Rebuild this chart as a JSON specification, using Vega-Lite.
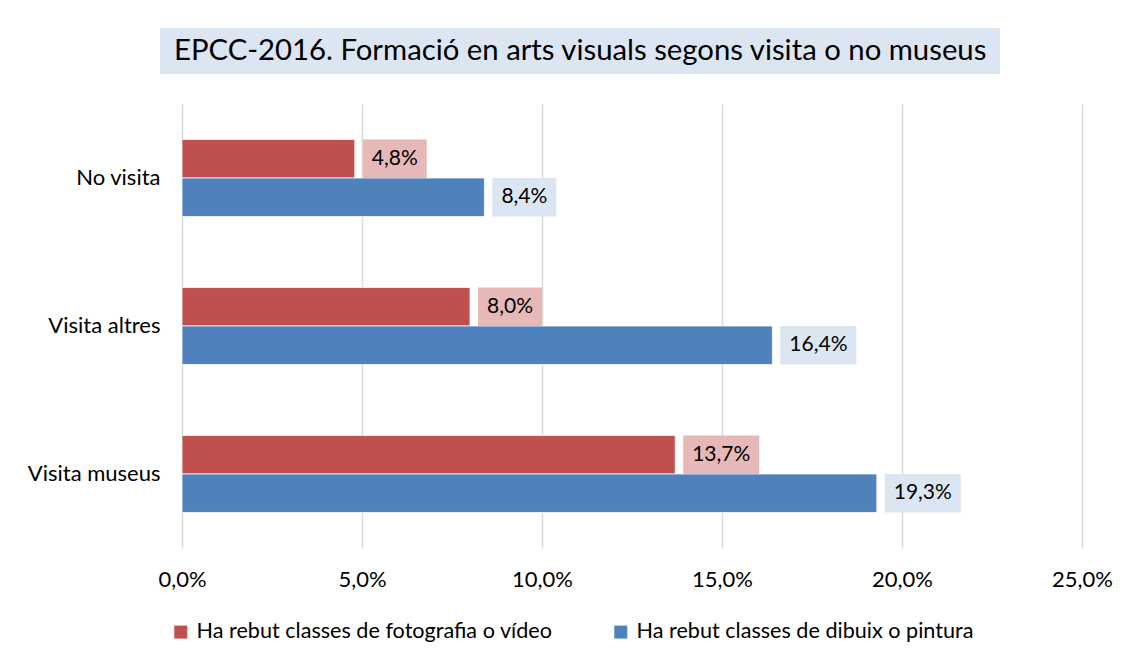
{
  "$schema": "https://vega.github.io/schema/vega-lite/v6.json",
  "autosize": {"type": "pad"},
  "padding": {"left": 27, "top": 28, "right": 5, "bottom": 5},
  "background": "white",
  "config": {
    "font": "Lato",
    "locale": {"number": {"decimal": ",", "thousands": ".", "grouping": [3], "currency": ["", " €"]}},
    "view": {"stroke": null},
    "concat": {"spacing": 30}
  },
  "bounds": "flush",
  "vconcat": [
    {
      "width": 900,
      "height": 46,
      "data": {"values": [{"title": "EPCC-2016. Formació en arts visuals segons visita o no museus"}]},
      "layer": [
        {
          "mark": {"type": "rect", "color": "#DCE6F2"},
          "encoding": {
            "x": {"datum": -0.0061, "type": "quantitative", "scale": {"domain": [0, 0.25], "nice": false, "zero": false}, "axis": null},
            "x2": {"datum": 0.2272},
            "y": {"datum": 0, "type": "quantitative", "scale": {"domain": [0, 1], "nice": false}, "axis": null},
            "y2": {"datum": 1}
          }
        },
        {
          "mark": {"type": "text", "fontSize": 29.3, "color": "#000", "align": "center", "baseline": "middle"},
          "encoding": {
            "x": {"datum": 0.1106, "type": "quantitative"},
            "y": {"datum": 0.5, "type": "quantitative"},
            "text": {"field": "title"}
          }
        }
      ]
    },
    {
      "width": 900,
      "height": 444,
      "data": {"values": [
        {"cat": "No visita", "serie": "Ha rebut classes de fotografia o vídeo", "value": 0.048},
        {"cat": "No visita", "serie": "Ha rebut classes de dibuix o pintura", "value": 0.084},
        {"cat": "Visita altres", "serie": "Ha rebut classes de fotografia o vídeo", "value": 0.080},
        {"cat": "Visita altres", "serie": "Ha rebut classes de dibuix o pintura", "value": 0.164},
        {"cat": "Visita museus", "serie": "Ha rebut classes de fotografia o vídeo", "value": 0.137},
        {"cat": "Visita museus", "serie": "Ha rebut classes de dibuix o pintura", "value": 0.193}
      ]},
      "encoding": {
        "y": {
          "field": "cat", "type": "nominal",
          "sort": ["No visita", "Visita altres", "Visita museus"],
          "scale": {"paddingInner": 0.48, "paddingOuter": 0.24},
          "axis": {"title": null, "domain": false, "ticks": false, "labelPadding": 22, "labelFontSize": 22, "labelColor": "#000"}
        },
        "yOffset": {
          "field": "serie", "type": "nominal",
          "sort": ["Ha rebut classes de fotografia o vídeo", "Ha rebut classes de dibuix o pintura"],
          "scale": {"paddingInner": 0, "paddingOuter": 0}
        }
      },
      "layer": [
        {
          "mark": {"type": "bar", "stroke": "white", "strokeWidth": 0.75},
          "encoding": {
            "x": {
              "field": "value", "type": "quantitative",
              "scale": {"domain": [0, 0.25], "nice": false},
              "axis": {
                "title": null, "values": [0, 0.05, 0.1, 0.15, 0.2, 0.25], "format": ".1%",
                "domain": false, "ticks": false, "labelPadding": 21, "labelFontSize": 22, "labelColor": "#000",
                "labelFlush": false, "grid": true, "gridColor": "#D9D9D9", "gridWidth": 1.5
              }
            },
            "color": {
              "field": "serie", "type": "nominal",
              "sort": ["Ha rebut classes de fotografia o vídeo", "Ha rebut classes de dibuix o pintura"],
              "scale": {"domain": ["Ha rebut classes de fotografia o vídeo", "Ha rebut classes de dibuix o pintura"], "range": ["#C0504D", "#4F81BD"]},
              "legend": {
                "orient": "none", "legendX": -12, "legendY": 593, "direction": "horizontal", "title": null,
                "symbolType": "square", "symbolSize": 169, "symbolStrokeWidth": 0, "labelFontSize": 21.6, "labelColor": "#000",
                "columnPadding": 57, "labelOffset": 5, "labelLimit": 500
              }
            }
          }
        },
        {
          "transform": [{"filter": "datum.value < 0.1"}],
          "mark": {"type": "bar", "xOffset": 8, "x2Offset": 72},
          "encoding": {
            "x": {"field": "value", "type": "quantitative"},
            "x2": {"field": "value"},
            "color": {"condition": {"test": "datum.serie === 'Ha rebut classes de fotografia o vídeo'", "value": "#E6B9B8"}, "value": "#DCE6F2"}
          }
        },
        {
          "transform": [{"filter": "datum.value >= 0.1"}],
          "mark": {"type": "bar", "xOffset": 8, "x2Offset": 84},
          "encoding": {
            "x": {"field": "value", "type": "quantitative"},
            "x2": {"field": "value"},
            "color": {"condition": {"test": "datum.serie === 'Ha rebut classes de fotografia o vídeo'", "value": "#E6B9B8"}, "value": "#DCE6F2"}
          }
        },
        {
          "transform": [{"filter": "datum.value < 0.1"}],
          "mark": {"type": "text", "dx": 40, "align": "center", "baseline": "middle", "fontSize": 21, "color": "#000"},
          "encoding": {
            "x": {"field": "value", "type": "quantitative"},
            "text": {"field": "value", "type": "quantitative", "format": ".1%"}
          }
        },
        {
          "transform": [{"filter": "datum.value >= 0.1"}],
          "mark": {"type": "text", "dx": 46, "align": "center", "baseline": "middle", "fontSize": 21, "color": "#000"},
          "encoding": {
            "x": {"field": "value", "type": "quantitative"},
            "text": {"field": "value", "type": "quantitative", "format": ".1%"}
          }
        }
      ]
    }
  ]
}
